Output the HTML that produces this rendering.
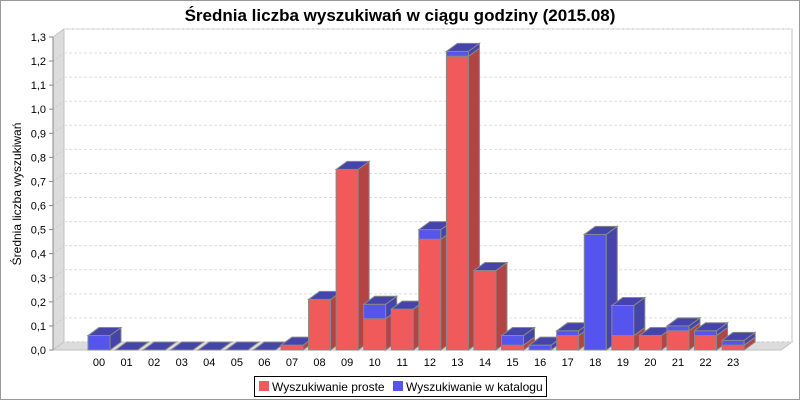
<!DOCTYPE html>
<html><head><meta charset="utf-8"><style>
body{margin:0;background:#fff}
svg{display:block;font-family:"Liberation Sans",sans-serif}
</style></head><body>
<svg id="chart" width="800" height="400" viewBox="0 0 800 400" xmlns="http://www.w3.org/2000/svg">
<rect x="0.5" y="0.5" width="799" height="399" fill="#fff" stroke="#999"/>
<text x="400" y="21" text-anchor="middle" font-size="17" font-weight="bold">Średnia liczba wyszukiwań w ciągu godziny (2015.08)</text>
<polygon points="53,37 64,29 64,342 53,350" fill="#dcdcdc" stroke="#c0c0c0"/>
<polygon points="53,350 64,342 792,342 781,350" fill="#dcdcdc" stroke="#c0c0c0"/>
<rect x="64" y="29" width="728" height="313" fill="#fff" stroke="#c0c0c0"/>
<g id="grid"></g>
<line x1="53" y1="37" x2="53" y2="350" stroke="#888"/>
<g id="yticks"></g>
<text transform="translate(21,194) rotate(-90)" text-anchor="middle" font-size="12">Średnia liczba wyszukiwań</text>
<g id="bars"></g>
<g id="xlabels"></g>
<g>
<rect x="254.5" y="376.5" width="292" height="20" fill="#fff" stroke="#000"/>
<rect x="259" y="381" width="10" height="10" fill="#f05a5a"/>
<text x="272" y="391" font-size="12">Wyszukiwanie proste</text>
<rect x="393" y="381" width="10" height="10" fill="#5555ee"/>
<text x="406" y="391" font-size="12">Wyszukiwanie w katalogu</text>
</g>
</svg>
<script>
const categories=["00","01","02","03","04","05","06","07","08","09","10","11","12","13","14","15","16","17","18","19","20","21","22","23"];
const proste=[0,0,0,0,0,0,0,0.02,0.21,0.75,0.13,0.17,0.46,1.22,0.33,0.02,0,0.06,0,0.06,0.06,0.08,0.06,0.02];
const katalog=[0.06,0,0,0,0,0,0,0,0,0,0.06,0,0.04,0.02,0,0.04,0.02,0.02,0.48,0.125,0,0.02,0.02,0.02];
const yTicks=[0,0.1,0.2,0.3,0.4,0.5,0.6,0.7,0.8,0.9,1.0,1.1,1.2,1.3];
const NS="http://www.w3.org/2000/svg";
const DX=11,DY=-8,BW=22;
function y(v){return 350-v*240.8;}
function xc(i){return 99+i*27.57;}
function mk(tag,attrs,parent){const e=document.createElementNS(NS,tag);for(const k in attrs)e.setAttribute(k,attrs[k]);parent.appendChild(e);return e;}
const grid=document.getElementById('grid'),yt=document.getElementById('yticks'),bars=document.getElementById('bars'),xl=document.getElementById('xlabels');
yTicks.forEach(t=>{
  const g=mk('line',{x1:53,y1:y(t),x2:64,y2:y(t)+DY,stroke:'#ccc','stroke-dasharray':'2,2'},grid);
  
  
  const l=mk('line',{x1:64,y1:y(t)+DY,x2:792,y2:y(t)+DY,stroke:'#ddd','stroke-dasharray':'3,2'},grid);
  
  
  const tk=mk('line',{x1:49,y1:y(t),x2:53,y2:y(t),stroke:'#888'},yt);
  
  
  const tx=mk('text',{x:46,y:y(t)+4,'text-anchor':'end','font-size':11},yt);
  tx.textContent=t.toFixed(1).replace('.',',');
  
  
});
function box(x0,yb,yt,front,side,top,parent,name){
  const g=mk('g',{},parent);
  
  
  if(yb-yt>0){
    mk('rect',{x:x0,y:yt,width:BW,height:yb-yt,fill:front,stroke:'#888','stroke-width':1},g);
    mk('polygon',{points:`${x0+BW},${yt} ${x0+BW+DX},${yt+DY} ${x0+BW+DX},${yb+DY} ${x0+BW},${yb}`,fill:side,stroke:'#888','stroke-width':1},g);
  }
  return g;
}
categories.forEach((c,i)=>{
  const x0=xc(i)-BW/2;
  const r=proste[i],b=katalog[i];
  box(x0,y(0),y(r),'#f05a5a','#b44444','#4444aa',bars,'bar-proste-'+c);
  box(x0,y(r),y(r+b),'#5555ee','#4444aa','#4444aa',bars,'bar-katalog-'+c);
  const yt2=y(r+b);
  const top=mk('polygon',{points:`${x0},${yt2} ${x0+DX},${yt2+DY} ${x0+BW+DX},${yt2+DY} ${x0+BW},${yt2}`,fill:'#4444aa',stroke:'#888','stroke-width':1},bars);
  
  
  const t=mk('text',{x:xc(i),y:366,'text-anchor':'middle','font-size':11},xl);
  t.textContent=c;
  
  
});
</script>
</body></html>
